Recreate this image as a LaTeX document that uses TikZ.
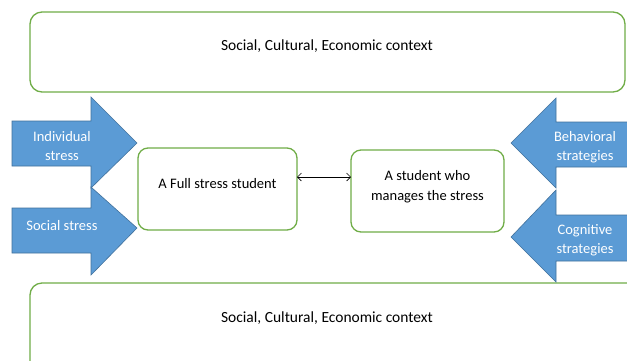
\documentclass[tikz,border=0pt]{standalone}
\usepackage{fontspec}
\setmainfont{Carlito}
\usepackage{tikz}
\usetikzlibrary{arrows.meta}
\definecolor{boxgreen}{HTML}{70AD47}
\definecolor{arrowblue}{HTML}{5B9BD5}
\definecolor{arrowline}{HTML}{41719C}

\tikzset{
  ctxbox/.style={draw=boxgreen,line width=1.3pt,rounded corners=12pt},
  studbox/.style={draw=boxgreen,line width=1.3pt,rounded corners=10pt,fill=white},
  blockarrow/.style={fill=arrowblue,draw=arrowline,line width=0.6pt,line join=miter},
  arrowtext/.style={text=white,align=center,font=\fontsize{14.5}{19}\selectfont},
  boxtext/.style={text=black,align=center,font=\fontsize{14.5}{20}\selectfont},
  ctxtext/.style={text=black,font=\fontsize{15.5}{20}\selectfont}
}

\begin{document}
\begin{tikzpicture}[x=1pt,y=-1pt]
\useasboundingbox (0,0) rectangle (627,360);
\clip (0,0) rectangle (627,360);
\fill[white] (0,0) rectangle (627,360);

\draw[ctxbox] (30,12) rectangle (625,92);
\draw[ctxbox] (30,283) rectangle (650,390);

\draw[studbox] (138,148) rectangle (297,230);
\draw[studbox] (351,150) rectangle (504,232);

% arrows on the left
\draw[blockarrow]
  (12,121) -- (91,121) -- (91,97) -- (137,143) -- (91,188) -- (91,166) -- (12,166) -- cycle;
\draw[blockarrow]
  (12,208) -- (91,208) -- (91,187) -- (137,228) -- (91,275) -- (91,253) -- (12,253) -- cycle;

% arrows on the right
\draw[blockarrow]
  (640,122) -- (556,122) -- (556,98) -- (511,143) -- (556,188) -- (556,167) -- (640,167) -- cycle;
\draw[blockarrow]
  (640,215) -- (556,215) -- (556,190) -- (511,237) -- (556,282) -- (556,261) -- (640,261) -- cycle;

\node[ctxtext] (ctxtoplabel) at (327,46) {Social, Cultural, Economic context};
\node[ctxtext] (ctxbotlabel) at (327,318) {Social, Cultural, Economic context};
\node[boxtext] (full) at (217.5,184) {A Full stress student};
\node[boxtext] (mng) at (427.5,187) {A student who\\manages the stress};

\node[arrowtext] (indiv) at (62,146) {Individual\\stress};
\node[arrowtext] (social) at (62,226) {Social stress};
\node[arrowtext] (behav) at (585,147) {Behavioral\\strategies};
\node[arrowtext] (cogn) at (585,240) {Cognitive\\strategies};

\coordinate (fullr) at (297,177);
\coordinate (mngl) at (351,177);
\draw[{Straight Barb[length=4pt]}-{Straight Barb[length=4pt]},line width=0.6pt] (fullr) -- (mngl);
\end{tikzpicture}
\end{document}
